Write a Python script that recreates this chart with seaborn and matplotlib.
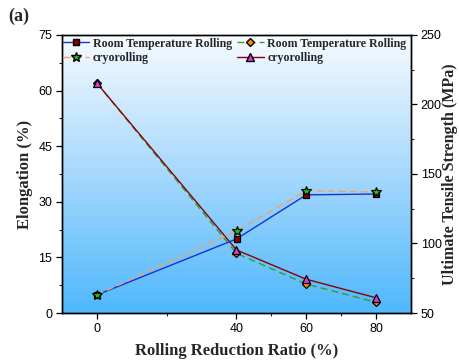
import numpy as np
import pandas as pd
import matplotlib
matplotlib.use("Agg")
import matplotlib.pyplot as plt
import seaborn as sns
from matplotlib.colors import LinearSegmentedColormap
from matplotlib.lines import Line2D

sns.set_style("ticks")
plt.rcParams['font.family'] = ['Liberation Sans', 'DejaVu Sans']

# Data
reduction = [0, 40, 60, 80]
uts_rt = [63, 103.3, 135, 135.6]        # Room Temperature Rolling (UTS)
uts_cryo = [63, 109, 138, 137]          # cryorolling (UTS)
elong_rt = [62, 16.1, 7.8, 2.9]         # Room Temperature Rolling (elongation)
elong_cryo = [62, 17, 9.1, 4.1]         # cryorolling (elongation)
xticks = [0, 40, 60, 80]
xminor = [20, 50, 70]
left_ticks = [0, 15, 30, 45, 60, 75]
right_ticks = [50, 100, 150, 200, 250]

fig = plt.figure(figsize=(4.6, 3.62), dpi=100)
ax1 = fig.add_axes([62/460, 1-313/362, (411-62)/460, (313-35)/362])
ax2 = ax1.twinx()

# gradient background
cmap = LinearSegmentedColormap.from_list("bg", ["#4fb8fd", "#a6d8fc", "#f7fbff"])
grad = np.linspace(0, 1, 256).reshape(-1, 1)
ax1.imshow(grad, cmap=cmap, aspect='auto', extent=[0, 1, 0, 1],
           transform=ax1.transAxes, origin='lower', zorder=0)

serif = ['Liberation Serif', 'DejaVu Serif']
lw = 1.0
ms = 5

sns.lineplot(x=reduction, y=elong_rt, ax=ax1, color="#2ca02c", linestyle=(0, (5, 3)),
             lw=lw, marker='D', markersize=ms-0.5, markerfacecolor="#ff8c00",
             markeredgecolor='black', markeredgewidth=0.9, zorder=3)
sns.lineplot(x=reduction, y=elong_cryo, ax=ax1, color="#8b0000", lw=lw,
             marker='^', markersize=ms+0.5, markerfacecolor="#d63ad6",
             markeredgecolor='black', markeredgewidth=0.9, zorder=4)
sns.lineplot(x=reduction, y=uts_rt, ax=ax2, color="#1732d4", lw=lw,
             marker='s', markersize=ms, markerfacecolor="#8b0000",
             markeredgecolor='black', markeredgewidth=0.9, zorder=3)
sns.lineplot(x=reduction, y=uts_cryo, ax=ax2, color="#f4a261", linestyle=(0, (5, 3)),
             lw=lw, marker='*', markersize=ms+2, markerfacecolor="#22bb22",
             markeredgecolor='black', markeredgewidth=0.9, zorder=4)

ax1.set_xlim(-10, 90)
ax1.set_ylim(0, 75)
ax2.set_ylim(50, 250)
ax1.set_xticks(xticks)
ax1.set_xticks(xminor, minor=True)
ax1.set_yticks(left_ticks)
ax1.set_yticks([7.5, 22.5, 37.5, 52.5, 67.5], minor=True)
ax2.set_yticks(right_ticks)
ax2.set_yticks([75, 125, 175, 225], minor=True)

for ax in (ax1, ax2):
    ax.tick_params(which='major', direction='out', length=4, width=0.9, labelsize=9, colors='black', pad=3)
    ax.tick_params(which='minor', direction='out', length=2.5, width=0.8)
    for s in ax.spines.values():
        s.set_visible(True)
        s.set_linewidth(1.0)
        s.set_color('black')

ax1.set_xlabel("Rolling Reduction Ratio (%)", fontsize=12, fontweight='bold', family=serif, labelpad=6)
ax1.set_ylabel("Elongation (%)", fontsize=12, fontweight='bold', family=serif, labelpad=4)
ax2.set_ylabel("Ultimate Tensile Strength (MPa)", fontsize=11.5, fontweight='bold', family=serif, labelpad=0)

fig.text(8/460, 1-16/362, "(a)", fontsize=13, fontweight='bold', family=serif, va='center', ha='left')

h1 = [Line2D([], [], color="#1732d4", lw=lw, marker='s', markersize=ms, markerfacecolor="#8b0000", markeredgecolor='black'),
      Line2D([], [], color="#f4a261", lw=lw, ls=(0, (5, 3)), marker='*', markersize=ms+2, markerfacecolor="#22bb22", markeredgecolor='black')]
h2 = [Line2D([], [], color="#2ca02c", lw=lw, ls=(0, (5, 3)), marker='D', markersize=ms-0.5, markerfacecolor="#ff8c00", markeredgecolor='black'),
      Line2D([], [], color="#8b0000", lw=lw, marker='^', markersize=ms+0.5, markerfacecolor="#d63ad6", markeredgecolor='black')]
labels = ["Room Temperature Rolling", "cryorolling"]
legprops = dict(frameon=False, prop={'family': serif, 'weight': 'bold', 'size': 8.6},
                handlelength=2.2, handletextpad=0.3, labelspacing=0.2, borderaxespad=0,
                borderpad=0.1, loc='upper left')
leg1 = ax2.legend(h1, labels, bbox_to_anchor=(0.0, 0.995), **legprops)
ax2.add_artist(leg1)
leg2 = ax2.legend(h2, labels, bbox_to_anchor=(0.499, 0.995), **legprops)

fig.savefig("out.png", dpi=100)
